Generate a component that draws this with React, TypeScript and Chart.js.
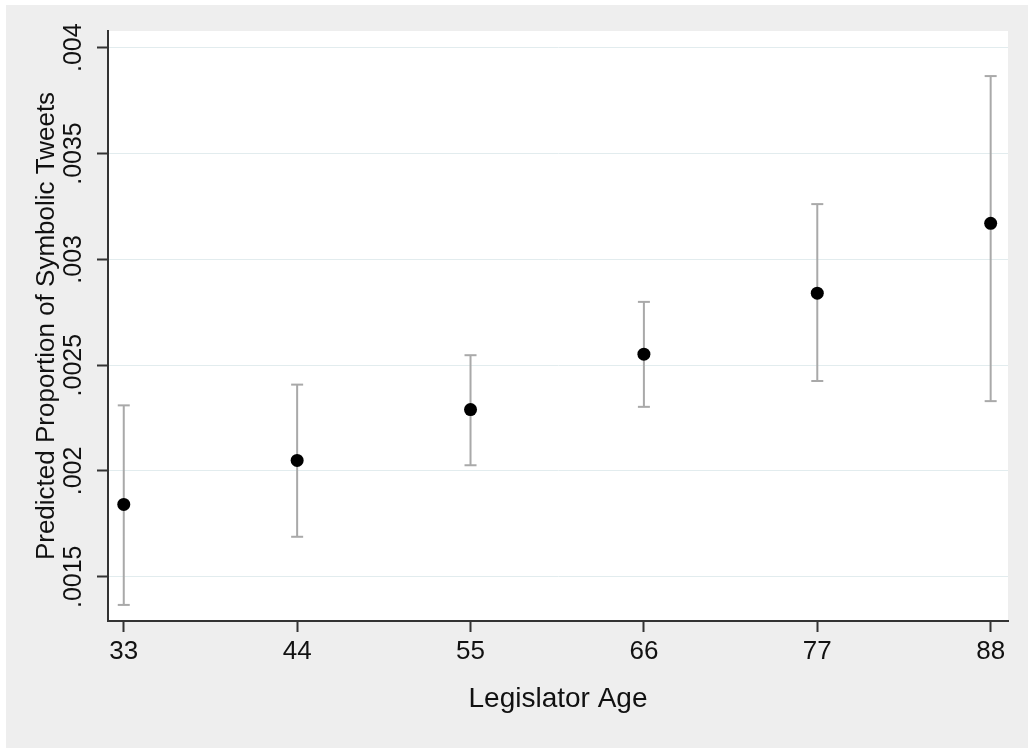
import { useEffect, useRef } from "react";
import { Chart, registerables } from "chart.js";

Chart.register(...registerables);

// Legislator age at which predictions are evaluated
const ages = [33, 44, 55, 66, 77, 88];
const xTickLabels = ["33", "44", "55", "66", "77", "88"];

// Predicted proportion of symbolic tweets with 95% confidence bounds
const predicted = [0.001842, 0.00205, 0.00229, 0.002552, 0.00284, 0.00317];
const ciLower = [0.001367, 0.001689, 0.002027, 0.002303, 0.002425, 0.00233];
const ciUpper = [0.00231, 0.002408, 0.002547, 0.002799, 0.003261, 0.003866];

// Vertical axis ticks
const yTickValues = [0.0015, 0.002, 0.0025, 0.003, 0.0035, 0.004];
const yTickLabels = [".0015", ".002", ".0025", ".003", ".0035", ".004"];

const FONT = "'Liberation Sans', Arial, sans-serif";
const TEXT = "#111111";
const AXIS = "#333333";

const backdrop = {
  id: "backdrop",
  beforeDraw(chart: any) {
    const { ctx, chartArea: a, width, height } = chart;
    ctx.save();
    ctx.fillStyle = "#EEEEEE";
    ctx.fillRect(0, 0, width, height);
    ctx.fillStyle = "#FFFFFF";
    ctx.fillRect(a.left, a.top, a.right - a.left, a.bottom - a.top);
    ctx.restore();
  },
};

export default function App() {
  const canvasRef = useRef<HTMLCanvasElement | null>(null);

  useEffect(() => {
    if (!canvasRef.current) return;

    const pointData = ages.map((age, i) => ({ x: age, y: predicted[i] }));
    // each interval is a two-point segment, separated by a gap
    const intervalData = ages.flatMap((age, i) => [
      { x: age, y: ciLower[i] },
      { x: age, y: ciUpper[i] },
      { x: age, y: null as any },
    ]);

    const chart = new Chart(canvasRef.current, {
      type: "scatter",
      data: {
        datasets: [
          {
            label: "Predicted",
            data: pointData,
            pointRadius: 6.5,
            pointBackgroundColor: "#000000",
            pointBorderColor: "#000000",
            pointBorderWidth: 0,
            order: 0,
          },
          {
            label: "95% CI",
            data: intervalData,
            showLine: true,
            spanGaps: false,
            borderColor: "#A9A9A9",
            borderWidth: 2,
            pointStyle: "line",
            pointRadius: 6,
            pointBorderWidth: 2,
            pointBorderColor: "#A9A9A9",
            pointBackgroundColor: "#A9A9A9",
            order: 1,
          } as any,
        ],
      },
      options: {
        animation: false,
        responsive: false,
        devicePixelRatio: 1,
        layout: { padding: { top: 26, right: 20, left: 0, bottom: 0 } },
        plugins: {
          legend: { display: false },
          tooltip: { enabled: false },
        },
        scales: {
          x: {
            type: "linear",
            min: 32,
            max: 89.1,
            afterBuildTicks: (s: any) => {
              s.ticks = ages.map((v) => ({ value: v }));
            },
            afterFit: (s: any) => {
              s.height = 127;
            },
            ticks: {
              color: TEXT,
              font: { family: FONT, size: 26 },
              padding: 4,
              maxRotation: 0,
              autoSkip: false,
              callback: (_v: any, i: number) => xTickLabels[i],
            },
            grid: {
              drawOnChartArea: false,
              drawTicks: true,
              tickLength: 11,
              tickWidth: 2,
              tickColor: AXIS,
              color: AXIS,
            },
            border: { display: true, color: AXIS, width: 2 },
            title: {
              display: true,
              text: "Legislator Age",
              color: TEXT,
              font: { family: FONT, size: 28 },
              padding: { top: 0, bottom: 32 },
            },
          },
          y: {
            type: "linear",
            min: 0.001291,
            max: 0.004079,
            afterBuildTicks: (s: any) => {
              s.ticks = yTickValues.map((v) => ({ value: v }));
            },
            afterFit: (s: any) => {
              s.width = 102;
            },
            ticks: {
              color: TEXT,
              font: { family: FONT, size: 25 },
              minRotation: 90,
              maxRotation: 90,
              crossAlign: "center",
              padding: -8,
              callback: (_v: any, i: number) => yTickLabels[i],
            },
            grid: {
              color: "#E2ECEE",
              lineWidth: 1,
              drawTicks: true,
              tickLength: 11,
              tickWidth: 2,
              tickColor: AXIS,
            },
            border: { display: true, color: AXIS, width: 2 },
            title: {
              display: true,
              text: "Predicted Proportion of Symbolic Tweets",
              color: TEXT,
              font: { family: FONT, size: 26 },
              padding: { top: 25, bottom: 0 },
            },
          },
        },
      } as any,
      plugins: [backdrop],
    });

    return () => chart.destroy();
  }, []);

  return (
    <div style={{ position: "absolute", left: 6, top: 5, width: 1022, height: 743 }}>
      <canvas ref={canvasRef} width={1022} height={743} style={{ display: "block" }} />
    </div>
  );
}
